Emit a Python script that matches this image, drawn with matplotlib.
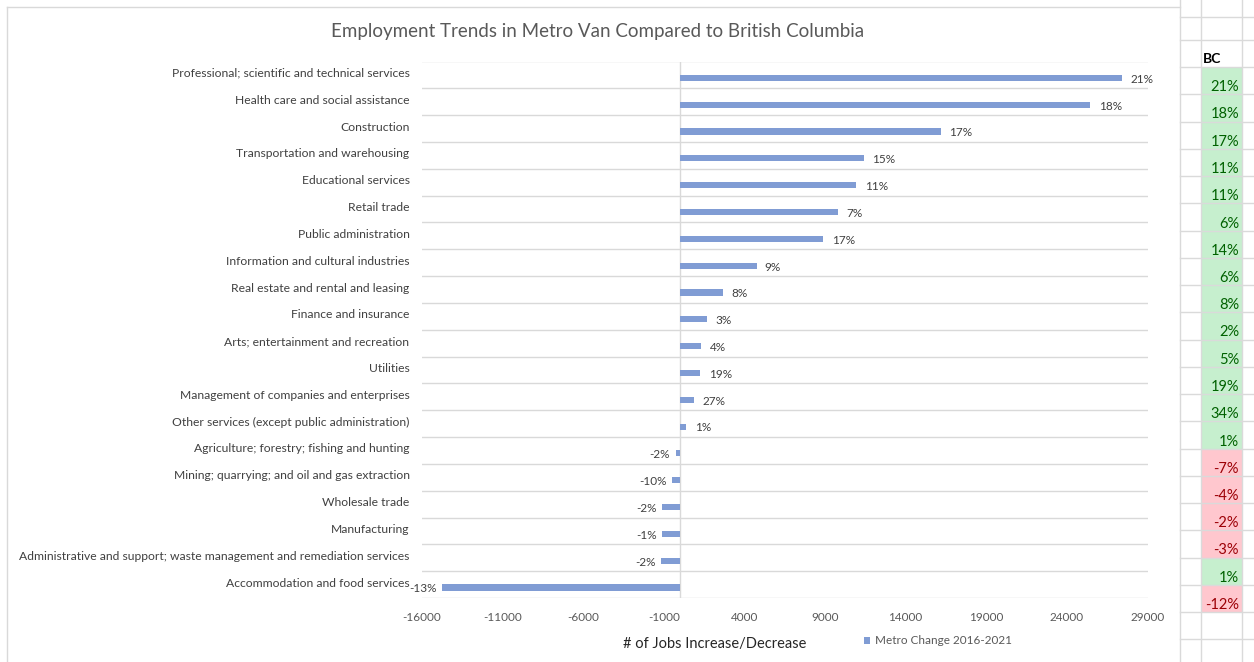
import numpy as np
import matplotlib.pyplot as plt
import matplotlib.transforms as mtransforms
from matplotlib.patches import Rectangle
from matplotlib.lines import Line2D

plt.rcParams['font.family'] = ['Lato', 'DejaVu Sans']

# data
categories = [
    "Professional; scientific and technical services",
    "Health care and social assistance",
    "Construction",
    "Transportation and warehousing",
    "Educational services",
    "Retail trade",
    "Public administration",
    "Information and cultural industries",
    "Real estate and rental and leasing",
    "Finance and insurance",
    "Arts; entertainment and recreation",
    "Utilities",
    "Management of companies and enterprises",
    "Other services (except public administration)",
    "Agriculture; forestry; fishing and hunting",
    "Mining; quarrying; and oil and gas extraction",
    "Wholesale trade",
    "Manufacturing",
    "Administrative and support; waste management and remediation services",
    "Accommodation and food services",
]
metro_jobs = [27400, 25450, 16200, 11400, 10950, 9800, 8900, 4750, 2700, 1680,
              1330, 1260, 860, 400, -270, -490, -1110, -1090, -1150, -14760]
metro_pct = ["21%", "18%", "17%", "15%", "11%", "7%", "17%", "9%", "8%", "3%",
             "4%", "19%", "27%", "1%", "-2%", "-10%", "-2%", "-1%", "-2%", "-13%"]
bc_pct = [21, 18, 17, 11, 11, 6, 14, 6, 8, 2, 5, 19, 34, 1, -7, -4, -2, -3, 1, -12]
x_ticks = np.arange(-16000, 29001, 5000)

W, H = 1254, 662
fig = plt.figure(figsize=(W / 100, H / 100), dpi=100)

def fx(px):
    return px / W

def fy(py):
    return 1 - py / H

grid_col = '#d9d9d9'
sheet_col = '#dadada'

# chart area border
fig.add_artist(Line2D([fx(7), fx(7)], [fy(7), 0], color=grid_col, lw=1))
fig.add_artist(Line2D([fx(7), fx(1180)], [fy(7), fy(7)], color=grid_col, lw=1))
fig.add_artist(Line2D([fx(1180), fx(1180)], [1, 0], color=grid_col, lw=1))

ax = fig.add_axes([fx(422), fy(598), fx(1147.5) - fx(422), fy(61.5) - fy(598)])

pos = np.arange(len(categories))
bars = ax.barh(pos + 0.11, metro_jobs, height=0.23, color='#809cd4',
               label='Metro Change 2016-2021', zorder=3)

for b, v, lab in zip(bars, metro_jobs, metro_pct):
    yc = b.get_y() + b.get_height() / 2
    if v >= 0:
        ax.annotate(lab, (v, yc), xytext=(6, -1), textcoords='offset points',
                    ha='left', va='center', fontsize=8.5, color='#404040')
    else:
        ax.annotate(lab, (v, yc), xytext=(-4, -1), textcoords='offset points',
                    ha='right', va='center', fontsize=8.5, color='#404040')

ax.set_xlim(-16000, 29000)
ax.set_ylim(len(categories) - 0.5, -0.5)
ax.set_xticks(x_ticks)
ax.set_xticklabels([str(t) for t in x_ticks])
ax.set_yticks(pos)
ax.set_yticklabels(categories)
ax.set_yticks(np.arange(len(categories) + 1) - 0.5, minor=True)
ax.tick_params(axis='y', which='both', length=0, pad=9, labelsize=8.75, labelcolor='#404040')
ax.tick_params(axis='x', length=0, pad=10, labelsize=8.5, labelcolor='#595959')
ax.grid(which='minor', axis='y', color=grid_col, lw=1, zorder=0)
ax.axvline(0, color=grid_col, lw=1, zorder=2)
for s in ax.spines.values():
    s.set_visible(False)

# category labels sit a little above the category centre
shift = mtransforms.ScaledTranslation(0, 0.025, fig.dpi_scale_trans)
for lbl in ax.get_yticklabels():
    lbl.set_transform(lbl.get_transform() + shift)

fig.text(fx(598), fy(32), "Employment Trends in Metro Van Compared to British Columbia",
         ha='center', va='center', fontsize=13.5, color='#595959')
fig.text(fx(715), fy(644), "# of Jobs Increase/Decrease", ha='center', va='center',
         fontsize=10.5, color='#262626')
ax.legend(loc='center left', bbox_to_anchor=(fx(864), fy(641)), bbox_transform=fig.transFigure,
          frameon=False, fontsize=8.5, handlelength=0.55, handleheight=0.55,
          handletextpad=0.35, borderpad=0, borderaxespad=0, labelcolor='#595959')

# spreadsheet cells on the right
row_top = 67
row_h = 27.25
col_l, col_r = 1200.7, 1241.7
h_lines = [17, 40] + [row_top + row_h * i for i in range(len(bc_pct) + 3)]
for yl in h_lines:
    fig.add_artist(Line2D([fx(1180), 1], [fy(yl), fy(yl)], color=sheet_col, lw=1))
for xl in [col_l, col_r]:
    fig.add_artist(Line2D([fx(xl), fx(xl)], [1, 0], color=sheet_col, lw=1))

fig.text(fx(1203), fy(63), "BC", ha='left', va='baseline', fontsize=10,
         fontweight='bold', color='black')
for i, v in enumerate(bc_pct):
    top = row_top + row_h * i
    fill, tc = ('#c6efce', '#006100') if v >= 0 else ('#ffc7ce', '#9c0006')
    fig.add_artist(Rectangle((fx(col_l), fy(top + row_h)), fx(col_r) - fx(col_l),
                             fy(top) - fy(top + row_h), facecolor=fill, edgecolor='none'))
    fig.text(fx(1239), fy(top + row_h - 3), f"{v}%", ha='right', va='baseline',
             fontsize=10.5, color=tc)

fig.savefig('out.png', dpi=100)
